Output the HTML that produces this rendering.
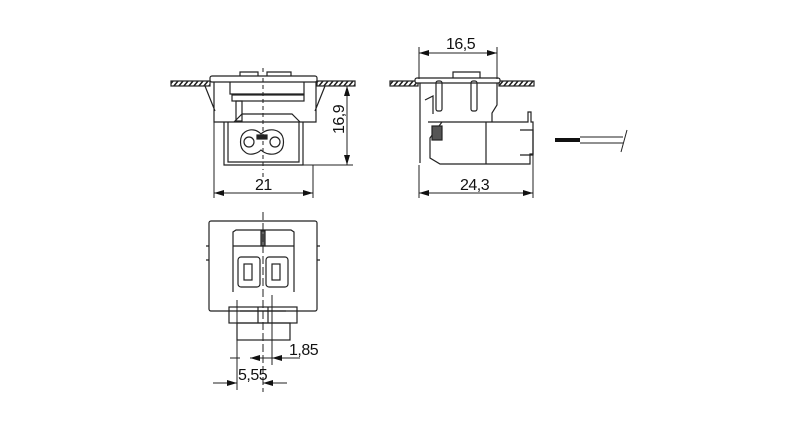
<!DOCTYPE html>
<html><head><style>html,body{margin:0;background:#fff}svg{display:block}text{font-family:"Liberation Sans Narrow","Liberation Sans",sans-serif;font-size:16px;fill:#111;letter-spacing:-0.5px}</style></head>
<body>
<svg width="800" height="429" viewBox="0 0 800 429" xmlns="http://www.w3.org/2000/svg">
<defs>
<pattern id="h" width="5" height="6" patternUnits="userSpaceOnUse" patternTransform="skewX(-40)"><rect width="5" height="6" fill="#fff"/><rect width="2" height="6" fill="#222"/></pattern>
<marker id="a" viewBox="0 0 10 6" refX="10" refY="3" markerWidth="10" markerHeight="6" orient="auto-start-reverse"><path d="M0,0L10,3L0,6z" fill="#111"/></marker>
</defs>
<g fill="none" stroke="#222" stroke-width="1.2">
<!-- View 1 -->
<rect x="171" y="81" width="39" height="5" fill="url(#h)"/>
<rect x="317" y="81" width="38" height="5" fill="url(#h)"/>
<rect x="210" y="76" width="107" height="6" rx="2" fill="#fff"/>
<path d="M240,76v-4h18v4M267,76v-4h24v4"/>
<path d="M214,82v40h102v-40M205,86l10,25M325,86l-10,25"/>
<path d="M230,82v12h74v-12"/>
<rect x="232" y="95" width="72" height="6"/>
<rect x="236" y="101" width="6" height="20"/>
<path d="M224,122v43h79v-43M228,122v40h71v-40M234,122l8,-8h50l8,8"/>
<path d="M245,132c6,-4 12,-2 16,2c4,-4 12,-6 18,-2c6,4 6,16 0,20c-6,4 -14,2 -18,-2c-4,4 -12,6 -16,2c-6,-4 -6,-16 0,-20z"/>
<circle cx="249" cy="142" r="5"/><circle cx="275" cy="142" r="5"/>
<rect x="257" y="135" width="10" height="4" fill="#222"/>
<path d="M263,68v4M263,78v92M263,173v4" stroke-dasharray="4,3" stroke-width="1"/>
<path d="M214,122v76M313,165v33M303,165h50M355,86h-8" stroke-width="1"/>
<line x1="214" y1="193" x2="313" y2="193" marker-start="url(#a)" marker-end="url(#a)" stroke-width="1"/>
<line x1="347" y1="86" x2="347" y2="165" marker-start="url(#a)" marker-end="url(#a)" stroke-width="1"/>
<!-- View 2 -->
<rect x="390" y="81" width="28" height="5" fill="url(#h)"/>
<rect x="499" y="81" width="35" height="5" fill="url(#h)"/>
<rect x="415" y="78" width="85" height="5" rx="2" fill="#fff"/>
<path d="M453,78v-6h27v6"/>
<path d="M420,83v80M497,83v22l-5,8v9"/>
<rect x="436" y="81" width="6" height="30" rx="2"/><rect x="471" y="81" width="6" height="30" rx="2"/>
<path d="M425,100l8,-4v18"/>
<path d="M428,122h100v-10h3v10h2v32h-3v10h-90l-10,-6v-20l12,-16"/>
<path d="M486,122v42M520,130h13v25h-13"/>
<rect x="432" y="126" width="10" height="14" fill="#555"/>
<line x1="555" y1="140" x2="580" y2="140" stroke="#111" stroke-width="4"/>
<path d="M580,137h43M580,143h43M627,130l-6,22" stroke-width="1"/>
<path d="M419,47v32M497,47v32M419,165v33M533,155v43" stroke-width="1"/>
<line x1="419" y1="53" x2="497" y2="53" marker-start="url(#a)" marker-end="url(#a)" stroke-width="1"/>
<line x1="419" y1="193" x2="533" y2="193" marker-start="url(#a)" marker-end="url(#a)" stroke-width="1"/>
<!-- View 3 -->
<rect x="209" y="221" width="108" height="90" rx="2"/>
<path d="M233,292v-60l3,-2h55l3,2v60"/>
<rect x="261" y="231" width="4" height="15" fill="#666"/>
<path d="M233,246h61"/>
<rect x="238" y="257" width="22" height="30" rx="3"/><rect x="266" y="257" width="22" height="30" rx="3"/>
<rect x="244" y="264" width="8" height="16"/><rect x="272" y="264" width="8" height="16"/>
<path d="M206,246h3M206,260h3M317,246h3M317,260h3"/>
<rect x="229" y="307" width="68" height="16"/>
<rect x="237" y="323" width="53" height="17"/>
<path d="M240,311h46M258,307v16M268,307v16"/>
<path d="M263,212v180" stroke-dasharray="8,3" stroke-width="1"/>
<path d="M237,300v90M272,295v70" stroke-width="1"/>
<path d="M240,358h-10M300,358h-45" stroke-width="1"/>
<line x1="263" y1="358" x2="250" y2="358" marker-end="url(#a)" stroke-width="1"/>
<line x1="284" y1="358" x2="272" y2="358" marker-end="url(#a)" stroke-width="1"/>
<line x1="213" y1="383" x2="237" y2="383" marker-end="url(#a)" stroke-width="1"/>
<line x1="287" y1="383" x2="263" y2="383" marker-end="url(#a)" stroke-width="1"/>
</g>
<text x="255" y="190">21</text>
<text x="446" y="49">16,5</text>
<text x="460" y="190">24,3</text>
<text x="289" y="355">1,85</text>
<text x="238" y="380">5,55</text>
<text transform="translate(344,134) rotate(-90)">16,9</text>
</svg>
</body></html>
